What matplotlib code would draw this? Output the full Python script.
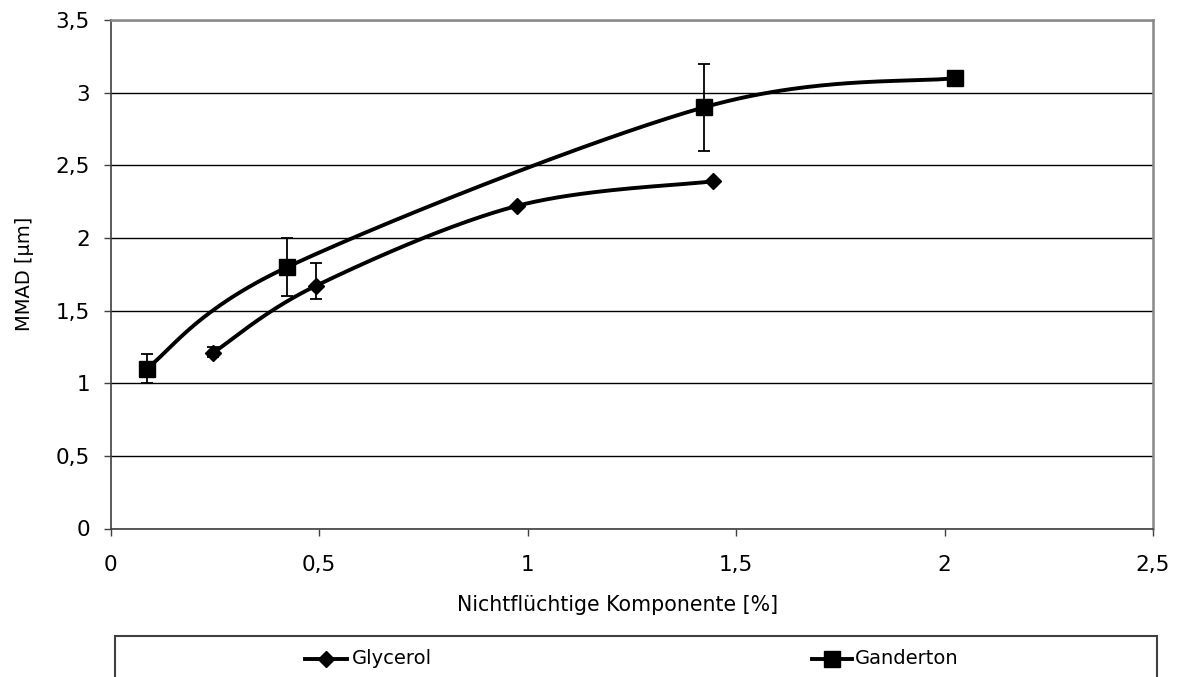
import numpy as np
import matplotlib
matplotlib.use('Agg')
import matplotlib.pyplot as plt
from matplotlib.patches import Rectangle
from matplotlib.lines import Line2D
from matplotlib.ticker import FuncFormatter

# ---------------- data ----------------
glyc_x = [0.246, 0.492, 0.974, 1.445]
glyc_y = [1.21, 1.67, 2.22, 2.39]
glyc_err_lo = [0.03, 0.09, 0.0, 0.0]
glyc_err_hi = [0.04, 0.16, 0.0, 0.0]

gand_x = [0.086, 0.424, 1.424, 2.025]
gand_y = [1.10, 1.80, 2.90, 3.10]
gand_err_lo = [0.10, 0.20, 0.30, 0.0]
gand_err_hi = [0.10, 0.20, 0.30, 0.0]

x_ticks = [0, 0.5, 1, 1.5, 2, 2.5]
y_ticks = [0, 0.5, 1, 1.5, 2, 2.5, 3, 3.5]
series_names = ["Glycerol", "Ganderton"]
x_label = "Nichtflüchtige Komponente [%]"
y_label = "MMAD [µm]"

# ---------------- figure ----------------
W, H = 1177, 677
plt.rcParams['font.family'] = ['DejaVu Sans']
fig = plt.figure(figsize=(W / 100, H / 100), dpi=100)
fig.patch.set_facecolor('white')
ax = fig.add_axes([110.7 / W, (H - 528.5) / H, (1153 - 110.7) / W, (528.5 - 20) / H])
ax.set_xlim(0, 2.5)
ax.set_ylim(0, 3.5)
ax.set_xticks(x_ticks)
ax.set_yticks(y_ticks)
fmt = FuncFormatter(lambda v, p: f"{v:g}".replace('.', ','))
ax.xaxis.set_major_formatter(fmt)
ax.yaxis.set_major_formatter(fmt)
ax.tick_params(axis='both', direction='out', length=5, width=1, color='#404040',
               labelsize=15.5, labelcolor='black')
ax.tick_params(axis='x', pad=14)
ax.tick_params(axis='y', pad=10)
ax.yaxis.grid(True, color='black', lw=1)
ax.set_axisbelow(True)
for s in ['left', 'bottom']:
    ax.spines[s].set_color('#404040')
    ax.spines[s].set_linewidth(1.2)
for s in ['top', 'right']:
    ax.spines[s].set_color('#888888')
    ax.spines[s].set_linewidth(1.8)


def smooth(xs, ys, n=60):
    pts = ax.transData.transform(np.column_stack([xs, ys]))
    P = np.vstack([pts[0], pts, pts[-1]])
    t = np.linspace(0, 1, n)[:, None]
    out = []
    for i in range(1, len(P) - 2):
        p0, p1, p2, p3 = P[i - 1], P[i], P[i + 1], P[i + 2]
        c1 = p1 + (p2 - p0) / 6
        c2 = p2 - (p3 - p1) / 6
        seg = (1 - t) ** 3 * p1 + 3 * (1 - t) ** 2 * t * c1 + 3 * (1 - t) * t ** 2 * c2 + t ** 3 * p2
        out.append(seg if i == 1 else seg[1:])
    out = np.vstack(out)
    d = ax.transData.inverted().transform(out)
    return d[:, 0], d[:, 1]


def errbars(xs, ys, lo, hi):
    xs, ys, lo, hi = map(np.asarray, (xs, ys, lo, hi))
    m = (lo > 0) | (hi > 0)
    ax.errorbar(xs[m], ys[m], yerr=[lo[m], hi[m]], fmt='none', ecolor='black',
                elinewidth=1.3, capsize=4, capthick=1.3, zorder=3)


errbars(glyc_x, glyc_y, glyc_err_lo, glyc_err_hi)
errbars(gand_x, gand_y, gand_err_lo, gand_err_hi)

sx, sy = smooth(glyc_x, glyc_y)
ax.plot(sx, sy, color='black', lw=2.8, solid_capstyle='round', zorder=4)
ax.plot(glyc_x, glyc_y, 'D', ms=8.5, color='black', zorder=5)

sx, sy = smooth(gand_x, gand_y)
ax.plot(sx, sy, color='black', lw=2.8, solid_capstyle='round', zorder=4)
ax.plot(gand_x, gand_y, 's', ms=11.5, color='black', zorder=5)

# axis labels
fig.text(618 / W, (H - 605) / H, x_label, ha='center', va='center', fontsize=14.8)
fig.text(25 / W, (H - 274) / H, y_label, ha='center', va='center', rotation=90, fontsize=14)

# legend box
fig.add_artist(Rectangle((114.7 / W, (H - 720) / H), (1157 - 114.7) / W, (720 - 636) / H,
                         transform=fig.transFigure, fill=False, edgecolor='#404040', lw=1.5))
ly = (H - 659) / H
for (x0, x1, tx), mk, ms, name in [((305, 347, 352), 'D', 8, series_names[0]),
                                   ((812, 852, 855), 's', 11, series_names[1])]:
    fig.add_artist(Line2D([x0 / W, (x0 + x1) / 2 / W, x1 / W], [ly, ly, ly], transform=fig.transFigure,
                          color='black', lw=2.8, marker=mk, ms=ms, markevery=[1]))
    fig.text(tx / W, ly, name, ha='left', va='center', fontsize=14)

fig.savefig('out.png', dpi=100)
